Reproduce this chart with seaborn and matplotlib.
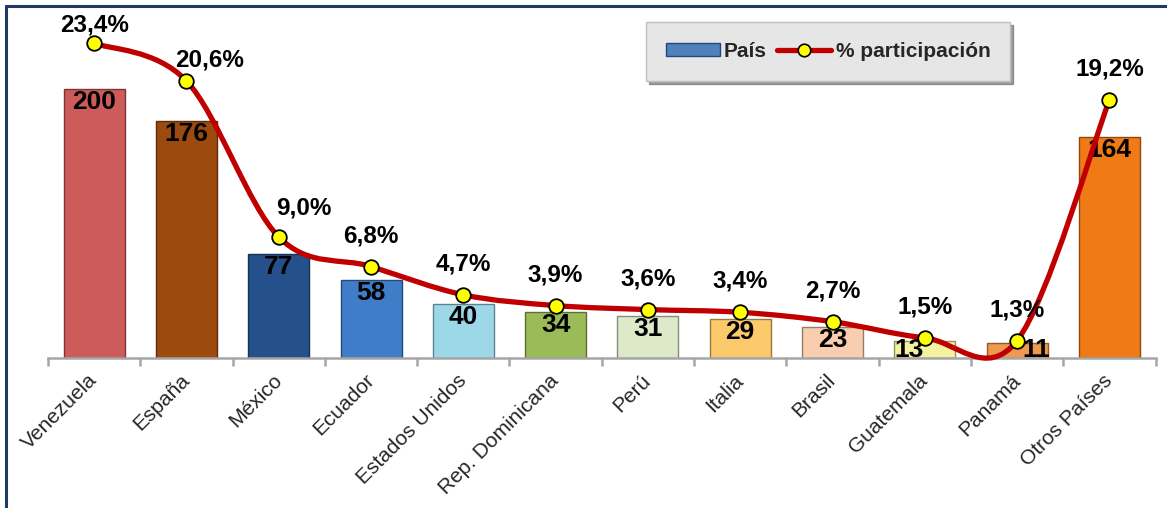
import numpy as np
import pandas as pd
import matplotlib
matplotlib.use("Agg")
import matplotlib.pyplot as plt
from matplotlib.path import Path
from matplotlib.patches import PathPatch, Patch
from matplotlib.lines import Line2D
import matplotlib.colors as mcolors
import seaborn as sns

# ---------------- data ----------------
categories = ["Venezuela", "España", "México", "Ecuador", "Estados Unidos",
              "Rep. Dominicana", "Perú", "Italia", "Brasil", "Guatemala",
              "Panamá", "Otros Países"]
counts = [200, 176, 77, 58, 40, 34, 31, 29, 23, 13, 11, 164]
percents = [23.4, 20.6, 9.0, 6.8, 4.7, 3.9, 3.6, 3.4, 2.7, 1.5, 1.3, 19.2]
bar_colors = ["#CD5B5A", "#9C4A0D", "#26508A", "#3F7DC9", "#9DD8E9", "#9BBA58",
              "#DDE9C8", "#FCCA6A", "#F8CDB0", "#F2F2A0", "#EE9A4E", "#F07A16"]

# ---------------- style ----------------
sns.set_theme(style="white")
plt.rcParams["font.family"] = ["Liberation Sans", "DejaVu Sans"]

W, H = 1167, 508
fig = plt.figure(figsize=(W / 100, H / 100), dpi=100)
left_px, right_px, base_px, top_px = 48, 1155.6, 358, 21.75
ax = fig.add_axes([left_px / W, 1 - base_px / H, (right_px - left_px) / W,
                   (base_px - top_px) / H])

df = pd.DataFrame({"pais": categories, "n": counts})
sns.barplot(data=df, x="pais", y="n", hue="pais", palette=bar_colors,
            legend=False, width=0.66, saturation=1, ax=ax, order=categories)
for p, c in zip(ax.patches, bar_colors):
    rgb = np.array(mcolors.to_rgb(c)) * 0.6
    p.set_edgecolor(rgb)
    p.set_linewidth(1.0)

ax.set_xlim(-0.5, len(categories) - 0.5)
ax.set_ylim(0, 250)
ax.set_xlabel("")
ax.set_ylabel("")
ax.set_yticks([])
for s in ["top", "right", "left"]:
    ax.spines[s].set_visible(False)
ax.spines["bottom"].set_color("#A6A6A6")
ax.spines["bottom"].set_linewidth(1.8)
ax.set_xticks(range(len(categories)))
ax.set_xticklabels(categories, rotation=45, ha="right", va="center",
                   rotation_mode="anchor", fontsize=15)
ax.tick_params(axis="x", which="major", length=0, pad=14)
ax.set_xticks(np.arange(-0.5, len(categories), 1.0), minor=True)
ax.tick_params(axis="x", which="minor", length=6, width=1.8, color="#A6A6A6",
               direction="out", bottom=True)
ax.patch.set_alpha(0)

# bar labels
bar_label_offsets = {9: (-16, -9.5), 10: (19, -7)}
for i, v in enumerate(counts):
    dx, dy = bar_label_offsets.get(i, (0, -13))
    ax.annotate(str(v), (i, v), xytext=(dx * 0.72, dy * 0.72),
                textcoords="offset points",
                ha="center", va="center", fontsize=19, fontweight="bold",
                color="black", zorder=5)

# ---------------- line on secondary axis ----------------
ax2 = ax.twinx()
ax2.set_ylim(0, 25)
ax2.set_yticks([])
for s in ax2.spines.values():
    s.set_visible(False)

x = np.arange(len(percents), dtype=float)
y = np.array(percents, dtype=float)
pts = np.column_stack([x, y])
verts = [tuple(pts[0])]
codes = [Path.MOVETO]
n = len(pts)
for i in range(n - 1):
    p0 = pts[max(i - 1, 0)]
    p1 = pts[i]
    p2 = pts[i + 1]
    p3 = pts[min(i + 2, n - 1)]
    c1 = p1 + (p2 - p0) / 6.0
    c2 = p2 - (p3 - p1) / 6.0
    verts += [tuple(c1), tuple(c2), tuple(p2)]
    codes += [Path.CURVE4] * 3
curve = PathPatch(Path(verts, codes), facecolor="none", edgecolor="#C00000",
                  linewidth=3.8, capstyle="round", joinstyle="round",
                  clip_on=False, zorder=3)
ax2.add_patch(curve)
sns.scatterplot(x=x, y=y, ax=ax2, s=110, color="#FFFF00", edgecolor="black",
                linewidth=1.3, zorder=4, clip_on=False, legend=False)

label_offsets = {0: (0, 18), 1: (23, 21), 2: (25, 29)}
for i, v in enumerate(percents):
    dx, dy = label_offsets.get(i, (0, 31))
    ax2.annotate(f"{v:.1f}".replace(".", ",") + "%", (i, v),
                 xytext=(dx * 0.72, dy * 0.72), textcoords="offset points",
                 ha="center", va="center", fontsize=17.5, fontweight="bold",
                 color="black", zorder=6, annotation_clip=False)

# ---------------- legend ----------------
handles = [Patch(facecolor="#4F81BD", edgecolor="#1F497D", linewidth=1.0),
           Line2D([0], [0], color="#C00000", linewidth=3.8, marker="o",
                  markersize=9, markerfacecolor="#FFFF00",
                  markeredgecolor="black", markeredgewidth=1.2)]
leg = fig.legend(handles, ["País", "% participación"], loc="center",
                 bbox_to_anchor=(828 / W, 1 - 51.5 / H), ncol=2,
                 frameon=True, fancybox=False, shadow=True,
                 prop={"weight": "bold", "size": 15}, handlelength=2.6,
                 handleheight=0.55, columnspacing=0.5, handletextpad=0.2,
                 borderpad=0.95, borderaxespad=0)
leg.get_frame().set_facecolor("#E6E6E6")
leg.get_frame().set_edgecolor("#BFBFBF")
leg.get_frame().set_linewidth(1.0)

# ---------------- outer frame (top and left) ----------------
fig.add_artist(Line2D([6 / W, 1.0], [1 - 6 / H, 1 - 6 / H],
                      transform=fig.transFigure, color="#1F3864", linewidth=2.2))
fig.add_artist(Line2D([6 / W, 6 / W], [0, 1 - 6 / H],
                      transform=fig.transFigure, color="#1F3864", linewidth=2.2))

fig.savefig("out.png", dpi=100, facecolor="white")
